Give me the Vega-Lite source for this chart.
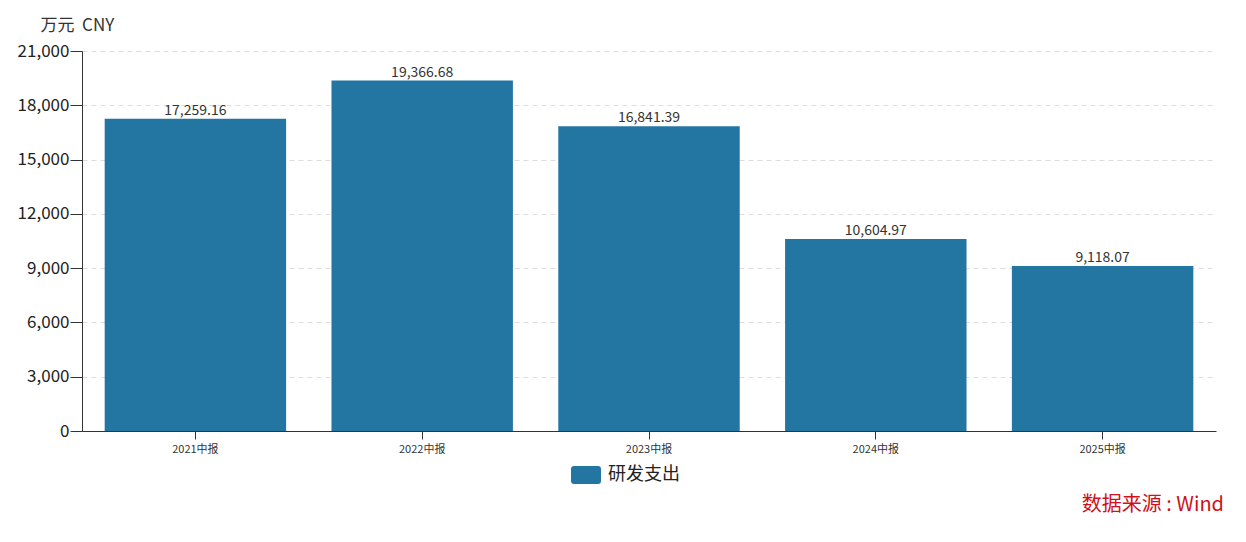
{
  "$schema": "https://vega.github.io/schema/vega-lite/v6.json",
  "width": 1134,
  "height": 380,
  "autosize": "none",
  "padding": {"left": 82, "top": 51, "right": 30, "bottom": 111},
  "background": "white",
  "config": {
    "font": "Noto Sans CJK SC",
    "view": {"stroke": null}
  },
  "data": {
    "values": [
      {"period": "2021中报", "value": 17259.16, "series": "研发支出"},
      {"period": "2022中报", "value": 19366.68, "series": "研发支出"},
      {"period": "2023中报", "value": 16841.39, "series": "研发支出"},
      {"period": "2024中报", "value": 10604.97, "series": "研发支出"},
      {"period": "2025中报", "value": 9118.07, "series": "研发支出"}
    ]
  },
  "title": {
    "text": "数据来源 : Wind",
    "orient": "bottom",
    "anchor": "end",
    "color": "#d0101a",
    "fontSize": 20,
    "fontWeight": "normal",
    "offset": 11,
    "dx": 8
  },
  "encoding": {
    "x": {
      "field": "period",
      "type": "nominal",
      "sort": null,
      "scale": {"paddingInner": 0.2, "paddingOuter": 0.1},
      "axis": {
        "title": null,
        "labelAngle": 0,
        "labelFontSize": 11,
        "labelColor": "#333333",
        "labelPadding": 4,
        "tickSize": 8,
        "tickColor": "#333333",
        "domainColor": "#333333",
        "grid": false
      }
    },
    "y": {
      "field": "value",
      "type": "quantitative",
      "scale": {"domain": [0, 21000], "nice": false},
      "axis": {
        "title": "万元\u00a0\u00a0CNY",
        "titleAngle": 0,
        "titleAlign": "left",
        "titleBaseline": "middle",
        "titleX": -42,
        "titleY": -26,
        "titleFontSize": 17,
        "titleFontWeight": "normal",
        "titleColor": "#333333",
        "values": [0, 3000, 6000, 9000, 12000, 15000, 18000, 21000],
        "format": ",d",
        "labelFontSize": 17,
        "labelColor": "#222222",
        "labelPadding": 1,
        "tickSize": 12,
        "tickColor": "#333333",
        "domainColor": "#333333",
        "grid": true,
        "gridDash": [5, 4],
        "gridColor": "#dddddd"
      }
    }
  },
  "layer": [
    {
      "mark": {"type": "bar", "color": "#2476a2"},
      "encoding": {
        "color": {
          "field": "series",
          "type": "nominal",
          "scale": {"range": ["#2476a2"]},
          "legend": {
            "title": null,
            "orient": "none",
            "legendX": 489,
            "legendY": 409,
            "direction": "horizontal",
            "labelFontSize": 18,
            "labelColor": "#222222",
            "symbolType": "M -0.8 -0.6 L 0.8 -0.6 Q 1 -0.6 1 -0.4 L 1 0.4 Q 1 0.6 0.8 0.6 L -0.8 0.6 Q -1 0.6 -1 0.4 L -1 -0.4 Q -1 -0.6 -0.8 -0.6 Z",
            "symbolSize": 900,
            "symbolStrokeWidth": 0,
            "symbolOpacity": 1,
            "labelOffset": 7
          }
        }
      }
    },
    {
      "mark": {"type": "text", "baseline": "bottom", "dy": -1, "fontSize": 14, "color": "#333333"},
      "encoding": {
        "text": {"field": "value", "type": "quantitative", "format": ",.2f"}
      }
    }
  ]
}
